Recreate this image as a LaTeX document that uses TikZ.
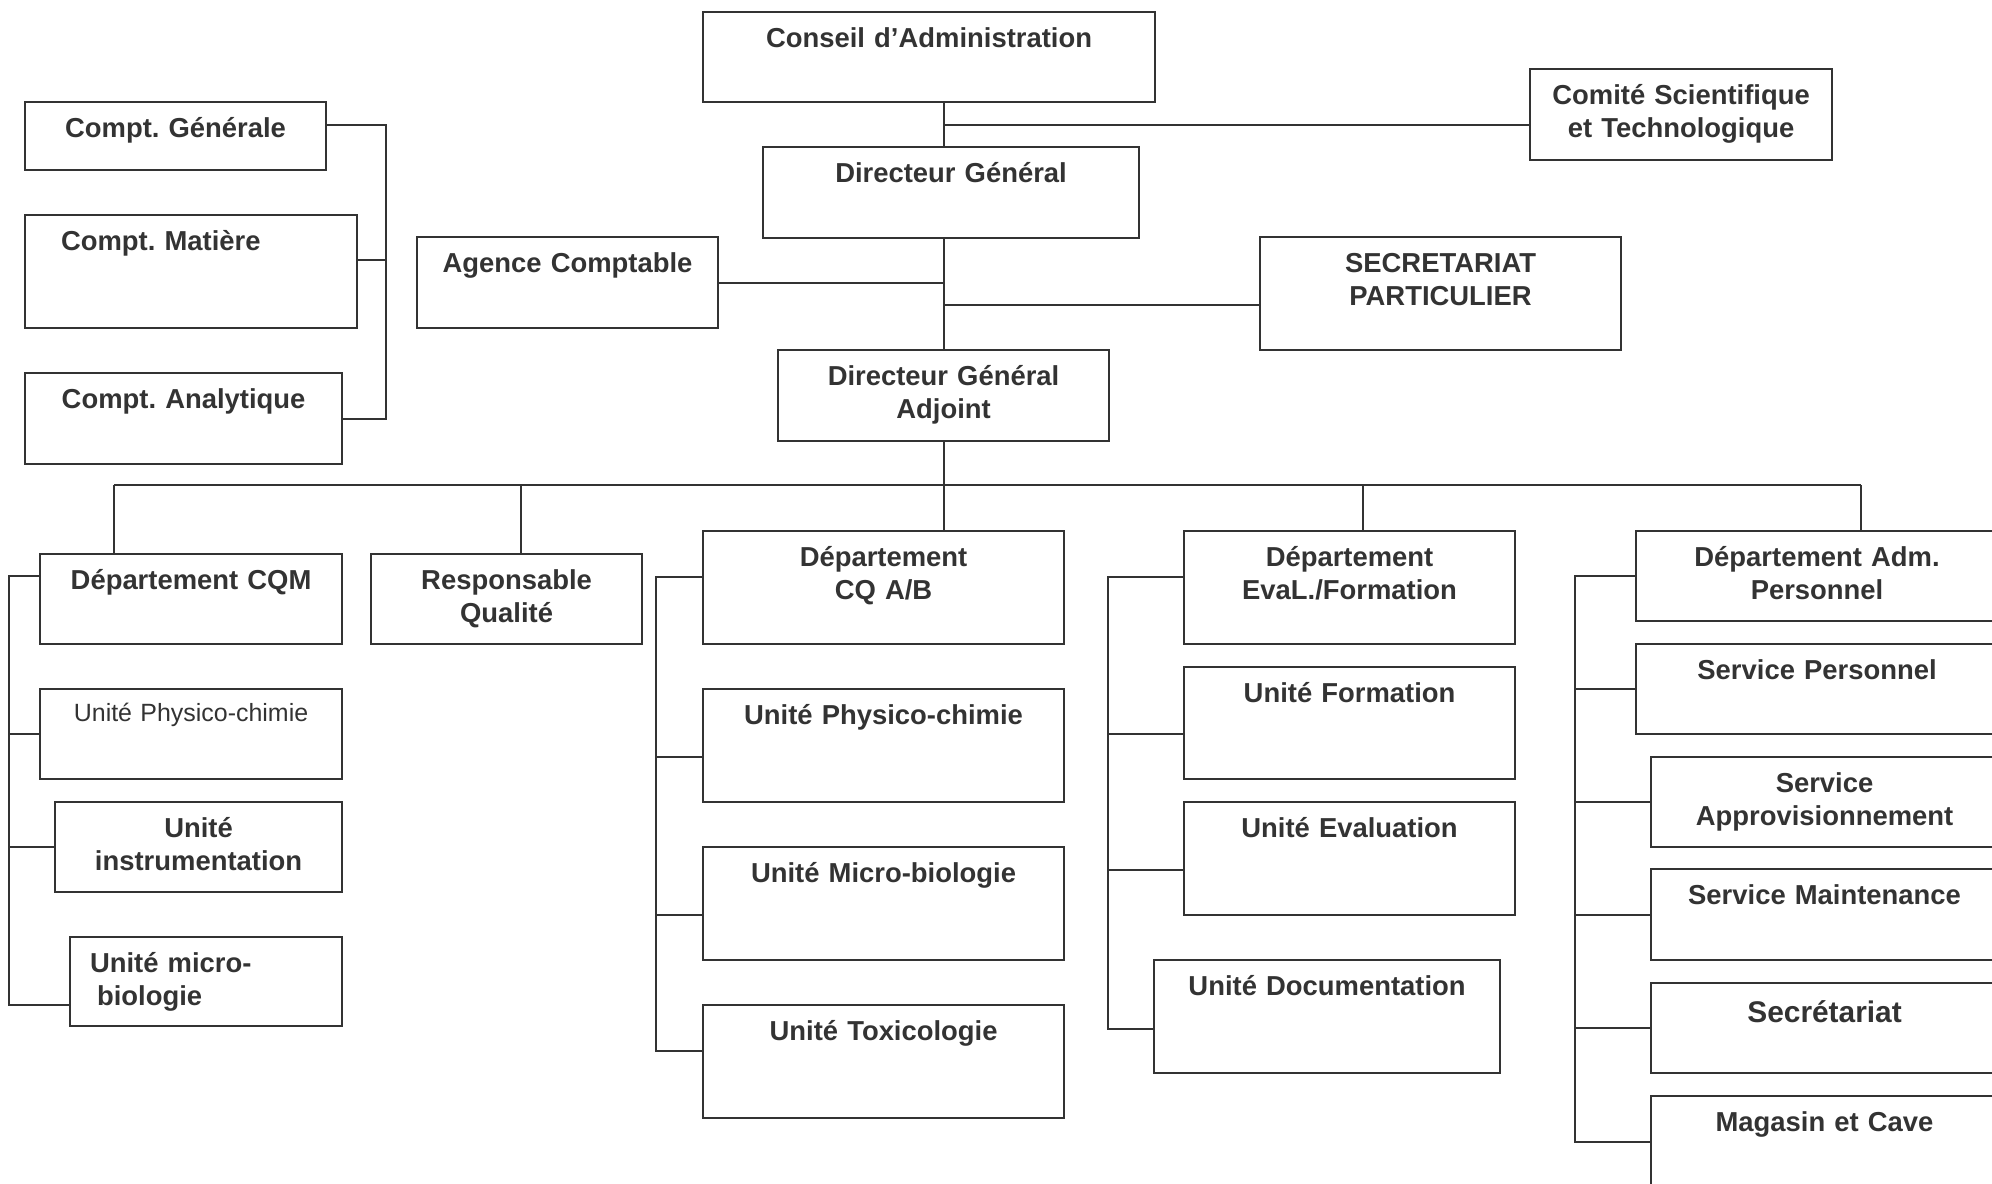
\documentclass[tikz,border=0pt]{standalone}
\usepackage{fontspec}
\setmainfont{Liberation Sans}
\frenchspacing
\definecolor{ink}{HTML}{333333}
\tikzset{
  box/.style 2 args={draw=ink, text=ink, line width=0.6pt, anchor=north west,
    inner sep=0pt, align=center, text width=#1cm, text height=0.355cm, text depth=#2cm,
    font=\fontsize{7.8pt}{9.3pt}\selectfont\bfseries},
  link/.style={draw=ink, line width=0.6pt},
}

\begin{document}
\begin{tikzpicture}
    \useasboundingbox (0,0) rectangle (19.92,-11.83);
    \clip (0,0) rectangle (19.92,-11.83);

    \path ( 7.02, -0.11) node [box={4.52}{0.545}] (ca) {Conseil d’Administration};
    \path (15.29, -0.68) node [box={3.02}{0.555}] (cst) {Comité Scientifique\\et Technologique};
    \path ( 7.62, -1.46) node [box={3.76}{0.555}] (dg) {Directeur Général};
    \path ( 4.16, -2.36) node [box={3.01}{0.555}] (agence) {Agence Comptable};
    \path (12.59, -2.36) node [box={3.61}{0.775}] (secp) {SECRETARIAT\\PARTICULIER};
    \path ( 7.77, -3.49) node [box={3.31}{0.555}] (dga) {Directeur Général\\Adjoint};

    \path ( 0.24, -1.01) node [box={3.01}{0.325}] (cg) {Compt. Générale};
    \path ( 0.24, -2.14) node [box={3.32}{0.775}, align=left] (cm) {\hspace*{0.36cm}Compt. Matière};
    \path ( 0.24, -3.72) node [box={3.17}{0.555}] (can) {Compt. Analytique};

    \path ( 0.39, -5.53) node [box={3.02}{0.545}] (cqm) {Département CQM};
    \path ( 3.70, -5.53) node [box={2.71}{0.545}] (rq) {Responsable\\Qualité};
    \path ( 0.39, -6.88) node [box={3.02}{0.572}, text height=0.328cm,
        font=\fontsize{7.1pt}{8.5pt}\selectfont] (upc) {Unité Physico-chimie};
    \path ( 0.54, -8.01) node [box={2.87}{0.545}] (uins) {Unité\\instrumentation};
    \path ( 0.69, -9.36) node [box={2.72}{0.535}, align=left] (umb) {\hspace*{0.2cm}Unité micro-\\\hspace*{0.27cm}biologie};

    \path ( 7.02, -5.30) node [box={3.61}{0.775}] (cqab) {Département\\CQ A/B};
    \path ( 7.02, -6.88) node [box={3.61}{0.775}] (upcb) {Unité Physico-chimie};
    \path ( 7.02, -8.46) node [box={3.61}{0.775}] (umbb) {Unité Micro-biologie};
    \path ( 7.02,-10.04) node [box={3.61}{0.775}] (utox) {Unité Toxicologie};

    \path (11.83, -5.30) node [box={3.31}{0.775}] (deval) {Département\\EvaL./Formation};
    \path (11.83, -6.66) node [box={3.31}{0.765}] (uform) {Unité Formation};
    \path (11.83, -8.01) node [box={3.31}{0.775}] (ueval) {Unité Evaluation};
    \path (11.53, -9.59) node [box={3.46}{0.775}] (udoc) {Unité Documentation};

    \path (16.35, -5.30) node [box={3.62}{0.545}] (dadm) {Département Adm.\\Personnel};
    \path (16.35, -6.43) node [box={3.62}{0.545}] (sperso) {Service Personnel};
    \path (16.50, -7.56) node [box={3.47}{0.545}] (sappro) {Service\\Approvisionnement};
    \path (16.50, -8.68) node [box={3.47}{0.555}] (smaint) {Service Maintenance};
    \path (16.50, -9.82) node [box={3.47}{0.51}, text height=0.39cm,
        font=\fontsize{8.5pt}{10pt}\selectfont\bfseries] (secr) {Secrétariat};
    \path (16.50,-10.95) node [box={3.47}{0.565}] (mag) {Magasin et Cave};

    \draw [link] (ca.south -| dga.north) -- (dg.north -| dga.north);
    \draw [link] (dg.south -| dga.north) -- (dga.north);
    \draw [link] ([yshift=-1mm]cst.west) -- ([yshift=-1mm]cst.west -| dga.north);
    \draw [link] (agence.east) -- (agence.east -| dga.north);
    \draw [link] ([yshift=-1.15mm]secp.west) -- ([yshift=-1.15mm]secp.west -| dga.north);
    \draw [link] (dga.south) -- (dga.south |- cqab.north);

    \coordinate (cpt) at (3.86, 0);
    \draw [link] ([yshift=1.1mm]cg.east) -| (can.east -| cpt) -- (can.east);
    \draw [link] ([yshift=1.2mm]cm.east) -- ([yshift=1.2mm]cm.east -| cpt);

    \coordinate (bus1) at ( 1.14, -4.85);
    \coordinate (bus2) at ( 5.21, -4.85);
    \coordinate (bus3) at (13.63, -4.85);
    \coordinate (bus4) at (18.61, -4.85);
    \draw [link] (bus1) -- (bus4);
    \draw [link] (bus1) -- (bus1 |- cqm.north);
    \draw [link] (bus2) -- (bus2 |- rq.north);
    \draw [link] (bus3) -- (bus3 |- deval.north);
    \draw [link] (bus4) -- (bus4 |- dadm.north);

    \coordinate (cqmbar) at (0.09, 0);
    \draw [link] ([yshift=2.3mm]cqm.west) -| ([yshift=-2.3mm]umb.west -| cqmbar) -- ([yshift=-2.3mm]umb.west);
    \draw [link] (upc.west) -- (upc.west -| cqmbar);
    \draw [link] (uins.west) -- (uins.west -| cqmbar);

    \coordinate (cqabbar) at (6.56, 0);
    \draw [link] ([yshift=1.1mm]cqab.west) -| ([yshift=1.1mm]utox.west -| cqabbar) -- ([yshift=1.1mm]utox.west);
    \draw [link] ([yshift=-1.15mm]upcb.west) -- ([yshift=-1.15mm]upcb.west -| cqabbar);
    \draw [link] ([yshift=-1.15mm]umbb.west) -- ([yshift=-1.15mm]umbb.west -| cqabbar);

    \coordinate (evalbar) at (11.08, 0);
    \draw [link] ([yshift=1.1mm]deval.west) -| ([yshift=-1.2mm]udoc.west -| evalbar) -- ([yshift=-1.2mm]udoc.west);
    \draw [link] ([yshift=-1.1mm]uform.west) -- ([yshift=-1.1mm]uform.west -| evalbar);
    \draw [link] ([yshift=-1.1mm]ueval.west) -- ([yshift=-1.1mm]ueval.west -| evalbar);

    \coordinate (admbar) at (15.75, 0);
    \draw [link] (dadm.west) -| (mag.west -| admbar) -- (mag.west);
    \draw [link] (sperso.west) -- (sperso.west -| admbar);
    \draw [link] (sappro.west) -- (sappro.west -| admbar);
    \draw [link] (smaint.west) -- (smaint.west -| admbar);
    \draw [link] (secr.west) -- (secr.west -| admbar);
\end{tikzpicture}
\end{document}
